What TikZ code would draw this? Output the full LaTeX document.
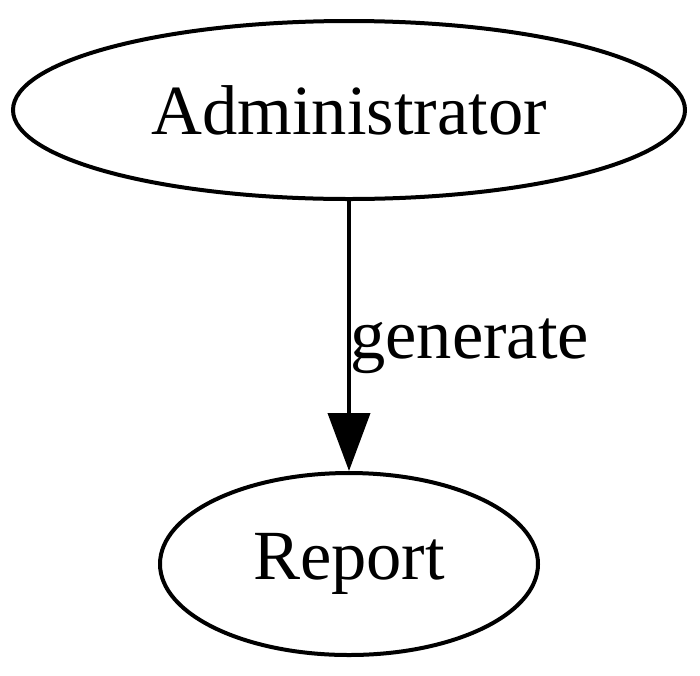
\documentclass[tikz,border=0pt]{standalone}
\usepackage{fontspec}
\setmainfont{Liberation Serif}
\usetikzlibrary{shapes.geometric,arrows.meta}
\begin{document}
\begin{tikzpicture}[x=1pt,y=1pt,
  gvnode/.style={draw,ellipse,line width=4pt,inner sep=0pt,font=\fontsize{70.5}{84}\selectfont},
  gvedge/.style={line width=4pt,-{Triangle[length=58pt,width=42pt]}},
  gvlabel/.style={font=\fontsize{70.5}{84}\selectfont,inner sep=0pt}]
\useasboundingbox (0,0) rectangle (700,-675);
\node[gvnode,minimum width=672pt,minimum height=178pt] (admin) at (349,-110) {Administrator};
\node[gvnode,minimum width=378pt,minimum height=182pt] (report) at (349,-564) {Report\vphantom{R}};
\draw[gvedge] (admin.south) -- (report.north);
\node[gvlabel,anchor=base west] (lbl) at (350,-358) {generate};
\end{tikzpicture}
\end{document}
